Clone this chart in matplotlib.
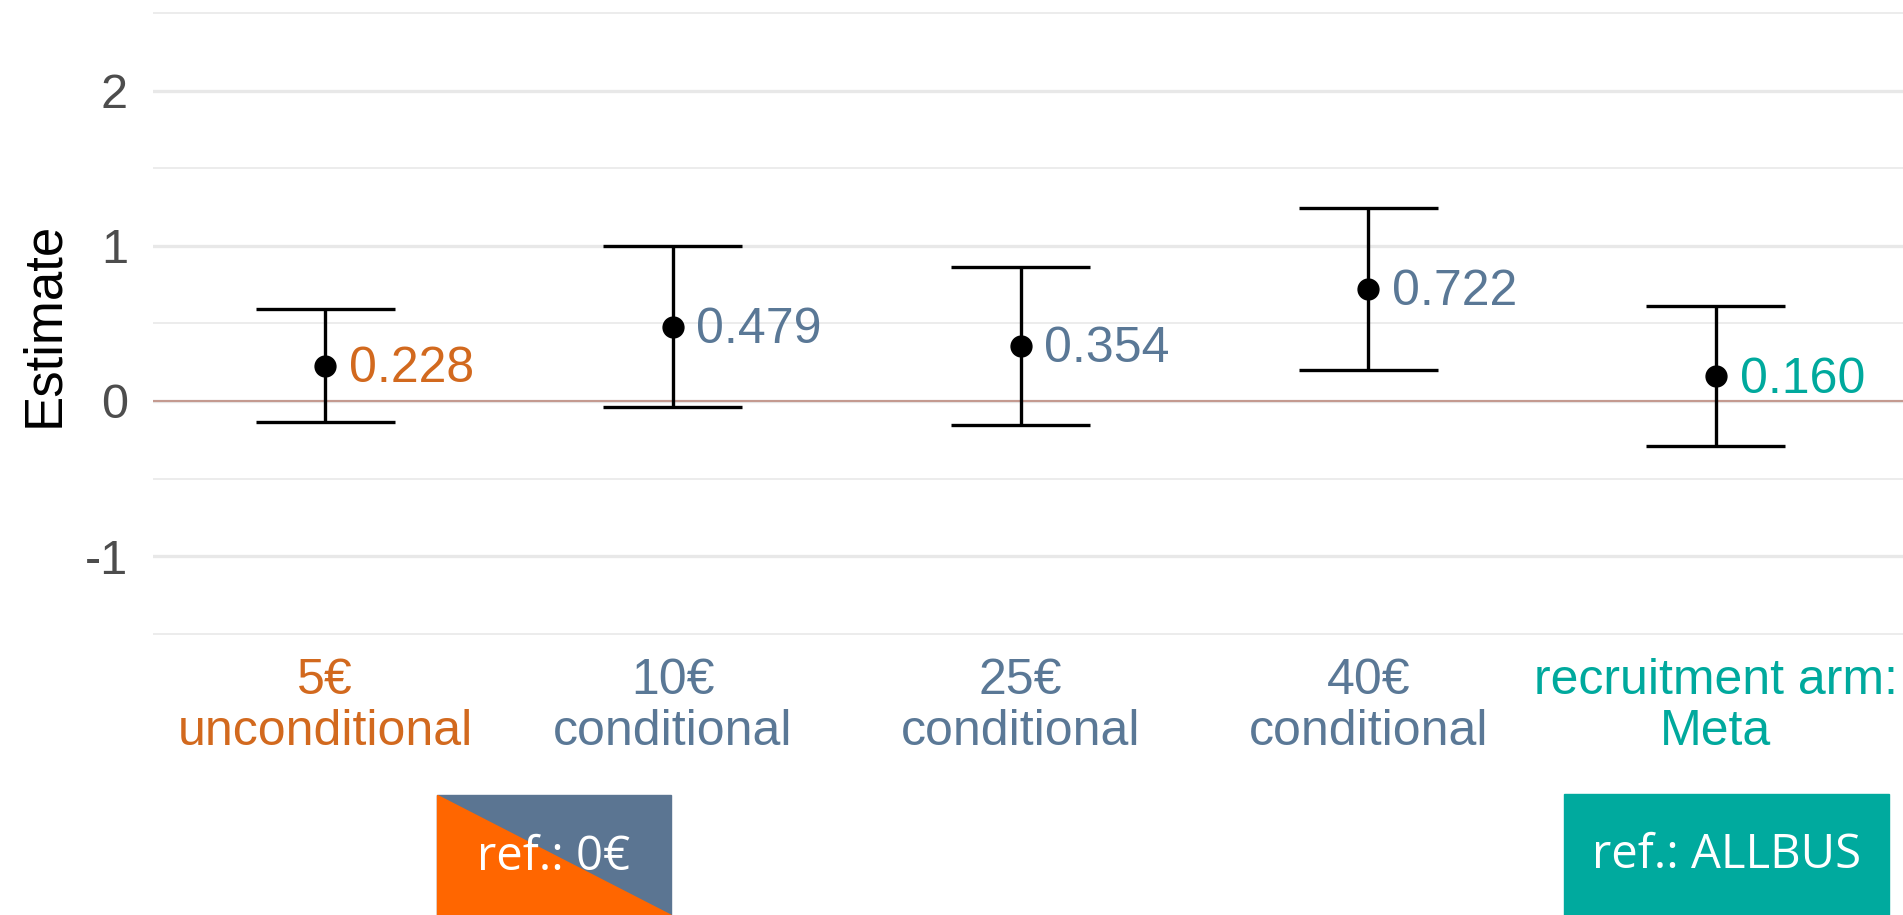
import numpy as np
import matplotlib
matplotlib.use("Agg")
import matplotlib.pyplot as plt
from matplotlib.patches import Polygon, Rectangle

# data
categories = ["5€\nunconditional", "10€\nconditional", "25€\nconditional",
              "40€\nconditional", "recruitment arm:\nMeta"]
estimates = [0.228, 0.479, 0.354, 0.722, 0.160]
lower = [-0.135, -0.042, -0.156, 0.202, -0.290]
upper = [0.591, 1.000, 0.864, 1.242, 0.610]
label_colors = ["#D2691E", "#5A7896", "#5A7896", "#5A7896", "#00A99D"]
yticks = [-1, 0, 1, 2]
ytick_labels = ["-1", "0", "1", "2"]
ref_texts = ["ref.: 0€", "ref.: ALLBUS"]

plt.rcParams['font.family'] = ['Liberation Sans', 'DejaVu Sans']

fig = plt.figure(figsize=(19.03, 9.15), dpi=100)
ax = fig.add_axes([153/1903, 1-636/915, 1-153/1903, 636/915])

x = np.arange(1, len(categories)+1)

ax.set_xlim(0.505, 5.538)
ax.set_ylim(-1.515, 2.584)

# grid
for v in [-1.5, -0.5, 0.5, 1.5, 2.5]:
    ax.axhline(v, color="#EBEBEB", lw=1.3, zorder=0)
for v in yticks:
    ax.axhline(v, color="#E8E8E8", lw=2.4, zorder=0)
ax.axhline(0, color="#C49A90", lw=1.5, zorder=1)

# error bars
ax.vlines(x, lower, upper, color="black", lw=2.4, zorder=3)
ax.hlines(lower, x-0.2, x+0.2, color="black", lw=2.4, zorder=3)
ax.hlines(upper, x-0.2, x+0.2, color="black", lw=2.4, zorder=3)
ax.plot(x, estimates, 'o', color="black", ms=15, zorder=4)

for xi, e, c in zip(x, estimates, label_colors):
    ax.annotate(f"{e:.3f}", (xi, e), xytext=(17, -2.5), textcoords="offset points",
                ha="left", va="center", color=c, fontsize=36)

for s in ax.spines.values():
    s.set_visible(False)

ax.set_yticks(yticks)
ax.set_yticklabels(ytick_labels, fontsize=35, color="#4D4D4D")
ax.set_xticks(x)
ax.set_xticklabels(categories, fontsize=36, linespacing=1.14)
for t, c in zip(ax.get_xticklabels(), label_colors):
    t.set_color(c)
ax.tick_params(axis="both", length=0)
ax.tick_params(axis="y", pad=18)
ax.tick_params(axis="x", pad=16)

ax.set_ylabel("Estimate", fontsize=38, color="black")
ax.yaxis.set_label_coords(-0.048, 0.49)

# reference boxes under the axis
W, H = 1903, 915
def fx(p):
    return p / W
def fy(p):
    return 1 - p / H

fig.patches.append(Rectangle((fx(437), 0), fx(671-437), (915-795)/H,
                             transform=fig.transFigure, color="#5B7592", zorder=0))
fig.patches.append(Polygon([(fx(437), fy(795)), (fx(437), fy(915)), (fx(671), fy(915))],
                           closed=True, transform=fig.transFigure, color="#FF6600", zorder=1))
fig.text(fx(554), fy(857), ref_texts[0], ha="center", va="center", color="white",
         fontsize=34, family=["Open Sans", "DejaVu Sans"])

fig.patches.append(Rectangle((fx(1564), 0), fx(1889-1564), (915-794)/H,
                             transform=fig.transFigure, color="#00AA9E", zorder=0))
fig.text(fx(1727), fy(855), ref_texts[1], ha="center", va="center", color="white",
         fontsize=34, family=["Open Sans", "DejaVu Sans"])

fig.savefig("out.png", dpi=100)
